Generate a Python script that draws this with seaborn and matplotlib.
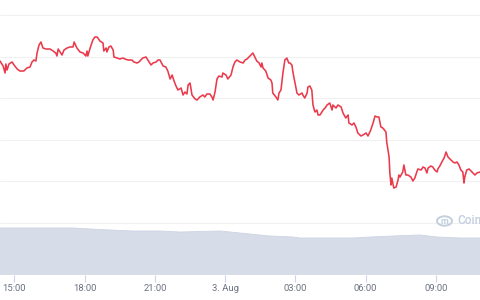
import numpy as np
import pandas as pd
import matplotlib
matplotlib.use("Agg")
import matplotlib.pyplot as plt
from matplotlib.patches import Circle
import seaborn as sns

# ---------------- data ----------------
start_time = "2021-08-02 14:23"
end_minutes = 1230

# price series: minutes after start, price (arbitrary units, y-axis labels hidden in source)
price_minutes = [
    0, 8, 13, 15, 18, 23, 31, 36, 44, 51, 61, 69, 77, 82, 87, 92, 95, 100, 105, 110,
    118, 128, 136, 143, 146, 149, 154, 159, 164, 172, 179, 187, 190, 197, 205, 213, 220, 223, 225, 231,
    238, 243, 249, 256, 264, 266, 272, 274, 279, 284, 290, 292, 300, 307, 315, 320, 328, 338, 343, 351,
    356, 361, 366, 374, 379, 387, 392, 400, 405,
    410, 418, 425, 430, 436, 441, 446, 451, 456, 464, 469, 474, 479, 482, 487, 492, 500, 505, 512, 520,
    525, 530, 538, 543, 546, 551, 556, 561, 569, 571, 579, 584, 592, 597, 602, 607,
    615, 623, 628, 633, 638, 643, 648, 653, 658, 664, 669, 671, 674, 681, 687, 694, 697, 699, 707, 712,
    715, 720, 725, 730, 735, 740, 743, 748, 751, 756, 761, 766, 774, 776, 781, 787, 789, 794, 799, 802,
    807, 812, 815,
    820, 828, 833, 838, 845, 851, 853, 861, 866, 874, 879, 886, 892, 894, 902, 907, 912, 917, 925, 930,
    938, 943, 950, 956, 961, 966, 971, 976, 981, 989, 991, 997, 999, 1002, 1004, 1009, 1015, 1020, 1022,
    1025, 1032, 1035, 1040, 1045, 1053, 1058, 1063, 1068, 1071, 1079, 1084, 1089, 1094, 1097, 1104, 1109, 1114, 1120, 1122,
    1127, 1135, 1138, 1143, 1148, 1153, 1161, 1166, 1171, 1176, 1181, 1186, 1189, 1191, 1196, 1202, 1207, 1212, 1217, 1222,
    1230,
]
price_values = [
    239, 234, 227, 236, 230, 236, 238, 235, 231, 229, 229, 232, 233, 238, 240, 239, 247, 255, 258, 252,
    251, 251, 249, 247, 244, 251, 248, 245, 250, 252, 253, 253, 258, 252, 248, 247, 244, 249, 244, 252,
    260, 263, 263, 259, 257, 249, 252, 248, 253, 254, 250, 243, 242, 241, 242, 241, 240, 240, 238, 237,
    238, 240, 242, 243, 240, 235, 237, 238, 240,
    240, 234, 233, 229, 221, 225, 219, 214, 210, 212, 205, 208, 206, 215, 217, 205, 201, 200, 203, 205,
    203, 206, 206, 203, 200, 208, 221, 224, 223, 227, 225, 221, 225, 233, 238, 240,
    238, 237, 240, 241, 243, 245, 247, 243, 239, 237, 233, 237, 232, 229, 222, 220, 217, 207, 203, 200,
    207, 210, 227, 240, 242, 237, 237, 235, 227, 217, 207, 205, 207, 205, 202, 207, 213, 214, 210, 195,
    188, 190, 185,
    185, 190, 192, 195, 197, 190, 195, 192, 195, 193, 187, 182, 185, 177, 175, 177, 173, 167, 164, 165,
    167, 164, 170, 177, 184, 183, 183, 173, 172, 168, 158, 143, 127, 115, 122, 112, 113, 120, 125,
    123, 128, 135, 125, 125, 123, 119, 122, 128, 131, 130, 133, 132, 127, 132, 134, 133, 130, 128, 131,
    134, 140, 142, 148, 143, 141, 138, 137, 138, 135, 130, 128, 117, 123, 130, 131, 129, 127, 125, 127,
    128,
]

# volume series (arbitrary units)
volume_minutes = [0, 128, 187, 231, 282, 341, 410, 461, 564, 615, 666, 692, 751, 769, 820, 904,
                  948, 1007, 1076, 1120, 1179, 1230]
volume_values = [47, 47, 47, 46, 45, 44, 44, 43, 44, 42, 40, 39, 38, 37, 37, 37,
                 38, 39, 40, 38, 37, 37]

tick_times = ["2021-08-02 15:00", "2021-08-02 18:00", "2021-08-02 21:00", "2021-08-03 00:00",
              "2021-08-03 03:00", "2021-08-03 06:00", "2021-08-03 09:00"]
tick_labels = ["15:00", "18:00", "21:00", "3. Aug", "03:00", "06:00", "09:00"]
watermark = "Coin"

# ---------------- frames ----------------
t0 = pd.Timestamp(start_time)
price_df = pd.DataFrame({"time": t0 + pd.to_timedelta(price_minutes, unit="min"),
                         "price": price_values})
vol_df = pd.DataFrame({"time": t0 + pd.to_timedelta(volume_minutes, unit="min"),
                       "volume": volume_values})

sns.set_theme(style="white")
plt.rcParams["font.family"] = ["Roboto", "DejaVu Sans"]

fig = plt.figure(figsize=(4.8, 3.0), dpi=100)
ax = fig.add_axes([0.0, 25 / 300, 1.0, 275 / 300])

# volume area
ax.fill_between(vol_df["time"], 0, vol_df["volume"], color="#d6dce8", lw=0, zorder=2)
sns.lineplot(data=vol_df, x="time", y="volume", ax=ax, color="#cdd4e2", lw=0.6, zorder=3)
ax.set_ylim(0, 275)
ax.set_yticks(np.linspace(52, 260, 6))
ax.grid(axis="y", color="#f0f0f0", lw=0.8, zorder=0)
ax.grid(axis="x", visible=False)

# price line
ax2 = ax.twinx()
sns.lineplot(data=price_df, x="time", y="price", ax=ax2, color="#ea3a4b", lw=1.15)
ax2.set_ylim(25, 300)
ax2.set_yticks([])
ax2.grid(False)

xmin = t0
xmax = t0 + pd.Timedelta(minutes=end_minutes)
for a in (ax, ax2):
    a.set_xlim(xmin, xmax)
    a.set_xlabel("")
    a.set_ylabel("")
    for s in a.spines.values():
        s.set_visible(False)

ax.tick_params(axis="y", left=False, labelleft=False, right=False)
ax2.tick_params(axis="y", left=False, right=False, labelright=False)
ax.set_xticks(pd.to_datetime(tick_times))
ax.set_xticklabels(tick_labels)
ax.tick_params(axis="x", bottom=True, length=5, width=0.8, color="#ccd6eb",
               labelsize=6.8, labelcolor="#6b7280", pad=1.5)
ax2.tick_params(axis="x", bottom=False, labelbottom=False)

# watermark
wm_color = "#c3cedf"
fig.patches.append(Circle((444.5 / 480, 1 - 221 / 300), 7.5 / 480, transform=fig.transFigure,
                          fill=False, ec=wm_color, lw=1.4))
fig.text(444.5 / 480, 1 - 222 / 300, "m", color=wm_color,
         fontsize=6.5, ha="center", va="center", fontweight="bold")
fig.text(457 / 480, 1 - 221 / 300, watermark, color=wm_color, fontsize=8.5,
         ha="left", va="center", fontweight="medium")

fig.savefig("out.png", dpi=100)
